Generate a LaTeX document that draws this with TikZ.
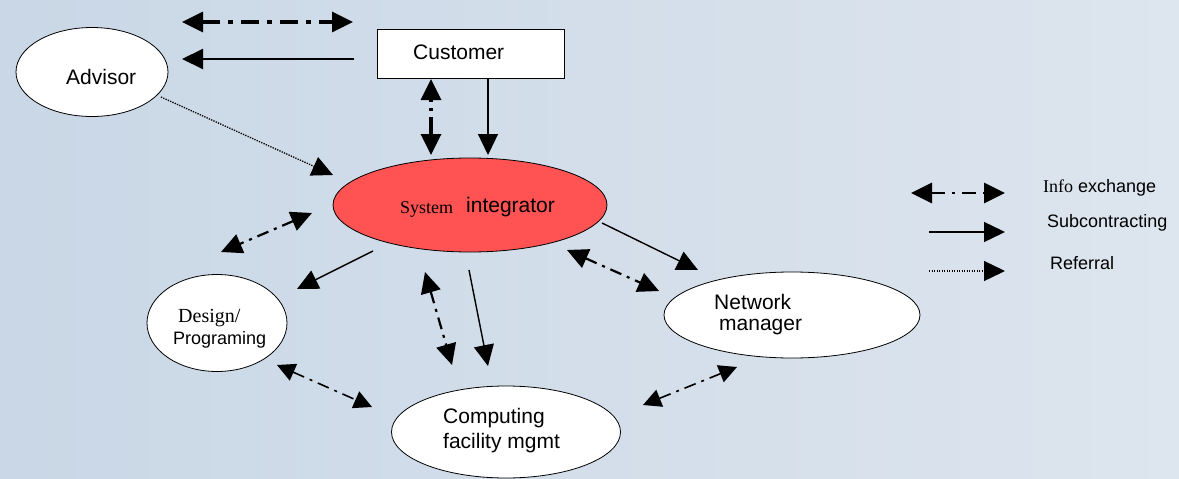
\documentclass[tikz,border=0pt]{standalone}
\usepackage{fontspec}
\setmainfont{Liberation Sans}
\newfontfamily\serifface{Liberation Serif}
\usetikzlibrary{shapes.geometric,arrows.meta}

\definecolor{bgleft}{HTML}{C9D7E6}
\definecolor{bgright}{HTML}{DDE5EE}
\definecolor{hub}{HTML}{FF5252}

\begin{document}
\begin{tikzpicture}[x=1pt,y=-1pt,
  bubble/.style={draw=black, line width=0.8pt, ellipse, fill=white, inner sep=0pt},
  lbl/.style={anchor=west, inner sep=0pt, font=\fontsize{21}{24}\selectfont},
  smalllbl/.style={anchor=west, inner sep=0pt, font=\fontsize{18}{22}\selectfont},
  legendlbl/.style={anchor=west, inner sep=0pt, font=\fontsize{18}{22}\selectfont},
  info/.style={line width=2.2pt, dash pattern=on 12pt off 6pt on 3pt off 6pt,
    {Triangle[length=21pt,width=20pt]}-{Triangle[length=21pt,width=20pt]}},
  infothick/.style={info, line width=3.5pt, dash pattern=on 18pt off 8pt on 5pt off 8pt},
  sub/.style={line width=1.4pt, -{Triangle[length=21pt,width=20pt]}},
  referral/.style={line width=1.3pt, dash pattern=on 1.3pt off 1.2pt, -{Triangle[length=21pt,width=20pt]}}
]
% background
\shade[left color=bgleft, right color=bgright] (0,0) rectangle (1179,479);
\useasboundingbox (0,0) rectangle (1179,479);

% nodes
\node[draw=black, line width=0.8pt, fill=white, minimum width=187pt, minimum height=49pt, inner sep=0pt] (cust) at (470.5,53.5) {};
\node[lbl] (custtxt) at (413,52) {Customer};

\node[bubble, minimum width=152pt, minimum height=89pt] (adv) at (92,72) {};
\node[lbl] (advtxt) at (66,77) {Advisor};

\node[bubble, fill=hub, minimum width=274pt, minimum height=94pt] (si) at (470,205) {};
\node[anchor=west, inner sep=0pt, font=\serifface\fontsize{18}{22}\selectfont] (sitxt1) at (400,209) {System};
\node[lbl] (sitxt2) at (466,207) {integrator};

\node[bubble, minimum width=140pt, minimum height=97pt] (des) at (217,323) {};
\node[anchor=west, inner sep=0pt, font=\serifface\fontsize{20}{22}\selectfont] (destxt1) at (178,318) {Design/};
\node[smalllbl] (destxt2) at (173,340) {Programing};

\node[bubble, minimum width=229pt, minimum height=92pt] (comp) at (506,432) {};
\node[lbl] (comptxt1) at (443,418) {Computing};
\node[lbl] (comptxt2) at (443,443) {facility mgmt};

\node[bubble, minimum width=256pt, minimum height=86pt] (net) at (792,315) {};
\node[lbl] (nettxt1) at (714,302) {Network};
\node[lbl] (nettxt2) at (719,327) {manager};

% free ends of the connectors
\coordinate (a1) at (182,22);   \coordinate (a2) at (353,22);
\coordinate (b1) at (354,59);   \coordinate (b2) at (182,59);
\coordinate (c1) at (431,79);   \coordinate (c2) at (431,155);
\coordinate (d1) at (488,79);   \coordinate (d2) at (488,155);
\coordinate (e1) at (161,97);   \coordinate (e2) at (333,175);
\coordinate (f1) at (312,213);  \coordinate (f2) at (221,252);
\coordinate (g1) at (373,251);  \coordinate (g2) at (297,289);
\coordinate (h1) at (425,272);  \coordinate (h2) at (452,365);
\coordinate (i1) at (469,270);  \coordinate (i2) at (488,366);
\coordinate (j1) at (602,223);  \coordinate (j2) at (698,270);
\coordinate (k1) at (567,250);  \coordinate (k2) at (659,291);
\coordinate (l1) at (277,365);  \coordinate (l2) at (372,407);
\coordinate (m1) at (737,367);  \coordinate (m2) at (643,405);

% connectors
\draw[infothick] (a1) -- (a2);
\draw[sub, line width=2pt] (b1) -- (b2);
\draw[infothick, dash pattern=on 3pt off 6pt on 3pt off 6pt on 22pt off 0pt] (c1) -- (c2);
\draw[sub] (d1) -- (d2);
\draw[referral] (e1) -- (e2);
\draw[info] (f1) -- (f2);
\draw[sub] (g1) -- (g2);
\draw[info] (h1) -- (h2);
\draw[sub] (i1) -- (i2);
\draw[sub] (j1) -- (j2);
\draw[info] (k1) -- (k2);
\draw[info, line width=1.6pt, {Triangle[length=18pt,width=18pt]}-{Triangle[length=18pt,width=18pt]}] (l1) -- (l2);
\draw[info, line width=1.6pt, {Triangle[length=18pt,width=18pt]}-{Triangle[length=18pt,width=18pt]}] (m1) -- (m2);

% legend
\coordinate (li1) at (911,193);  \coordinate (li2) at (1005,193);
\coordinate (ls1) at (929,232);  \coordinate (ls2) at (1005,232);
\coordinate (lr1) at (929,271);  \coordinate (lr2) at (1005,271);
\draw[info, line width=2.8pt, dash pattern=on 14pt off 7pt on 3pt off 7pt] (li1) -- (li2);
\draw[sub] (ls1) -- (ls2);
\draw[referral] (lr1) -- (lr2);
\node[legendlbl] (legi) at (1043,188) {{\serifface Info} exchange};
\node[legendlbl] (legs) at (1047,223) {Subcontracting};
\node[legendlbl] (legr) at (1050,263) {Referral};
\end{tikzpicture}
\end{document}
